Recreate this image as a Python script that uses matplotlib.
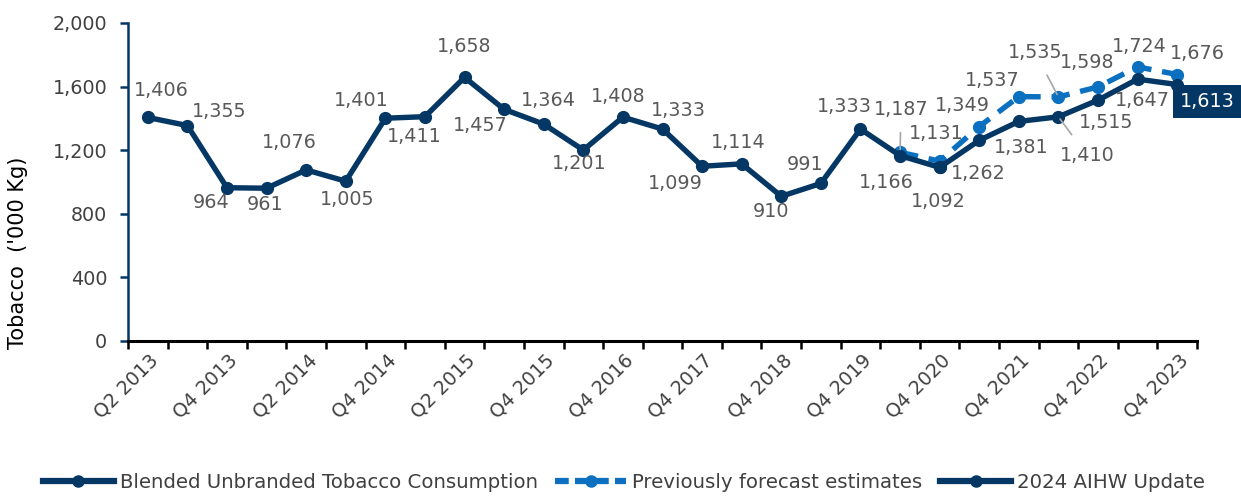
import matplotlib
matplotlib.use("Agg")
import matplotlib.pyplot as plt
from matplotlib.lines import Line2D

# ---------------- data ----------------
categories = ["Q2 2013", "Q3 2013", "Q4 2013", "Q1 2014", "Q2 2014", "Q3 2014",
              "Q4 2014", "Q1 2015", "Q2 2015", "Q3 2015", "Q4 2015", "Q2 2016",
              "Q4 2016", "Q2 2017", "Q4 2017", "Q2 2018", "Q4 2018", "Q2 2019",
              "Q4 2019", "Q2 2020", "Q4 2020", "Q2 2021", "Q4 2021", "Q2 2022",
              "Q4 2022", "Q2 2023", "Q4 2023"]
shown_labels = ["Q2 2013", "Q4 2013", "Q2 2014", "Q4 2014", "Q2 2015", "Q4 2015",
                "Q4 2016", "Q4 2017", "Q4 2018", "Q4 2019", "Q4 2020", "Q4 2021",
                "Q4 2022", "Q4 2023"]

blended = [1406, 1355, 964, 961, 1076, 1005, 1401, 1411, 1658, 1457, 1364, 1201,
           1408, 1333, 1099, 1114, 910, 991, 1333, 1166, 1092]
forecast_start = 19
forecast = [1187, 1131, 1349, 1537, 1535, 1598, 1724, 1676]
aihw_start = 20
aihw = [1092, 1262, 1381, 1410, 1515, 1647, 1613]

NAVY = "#053765"
BLUE = "#0b70bf"
LBL = "#595959"
TICK = "#404040"

plt.rcParams["font.family"] = ["DejaVu Sans"]

fig = plt.figure(figsize=(12.41, 4.96), dpi=100)
ax = fig.add_axes([128 / 1241, (496 - 341) / 496, (1197 - 128) / 1241, (341 - 23) / 496])

n = len(categories)
xs_b = list(range(len(blended)))
xs_f = list(range(forecast_start, forecast_start + len(forecast)))
xs_a = list(range(aihw_start, aihw_start + len(aihw)))

ax.plot(xs_f, forecast, color=BLUE, lw=3.9, ls=(0, (3.4, 2.0)), marker="o",
        ms=8.5, zorder=2, solid_capstyle="butt")
ax.plot(xs_b, blended, color=NAVY, lw=3.9, marker="o", ms=8.5, zorder=3)
ax.plot(xs_a, aihw, color=NAVY, lw=3.9, marker="o", ms=8.5, zorder=3)

ax.set_xlim(-0.5, n - 0.5)
ax.set_ylim(0, 2000)
ax.set_yticks(range(0, 2001, 400))
ax.set_yticklabels([f"{v:,}" for v in range(0, 2001, 400)])
ax.tick_params(axis="y", colors=NAVY, length=6, width=1.8, pad=9,
               labelcolor=TICK, labelsize=13.8)

# x ticks at category boundaries, labels every other category
ax.set_xticks([i - 0.5 for i in range(n + 1)])
ax.set_xticklabels([])
ax.tick_params(axis="x", length=6, width=1.8, color="black")
label_idx = [categories.index(l) for l in shown_labels]
for i, l in zip(label_idx, shown_labels):
    ax.annotate(l, (i, 0), xytext=(1, -10), textcoords="offset pixels",
                rotation=45, ha="right", va="top", rotation_mode="anchor",
                fontsize=13.8, color=TICK, annotation_clip=False)

for s in ["top", "right"]:
    ax.spines[s].set_visible(False)
ax.spines["left"].set_color(NAVY)
ax.spines["left"].set_linewidth(1.8)
ax.spines["bottom"].set_color("black")
ax.spines["bottom"].set_linewidth(2.2)
ax.spines["bottom"].set_zorder(5)

# data labels: (dx, dy) in pixels, dy positive = down
b_off = [(14, -27), (32, -14), (-16, 15), (-2, 16), (-17, -27), (1, 18), (-24, -18),
         (-11, 20), (0, -31), (-24, 16), (5, -24), (-4, 13), (-5, -21), (16, -19),
         (-27, 17), (-3, -21), (-10, 15), (-16, -19), (-16, -23), (-14, 27), (-1, 34)]
f_off = [(1, -43), (-3, -28), (-17, -21), (-27, -16), (-23, -44), (-11, -24), (2, -20), (20, -21)]
a_off = [None, (-1, 33), (2, 26), (29, 39), (8, 22), (5, 21), (30, 17)]
f_leader = {0: True, 4: True}
a_leader = {3: True}

def lab(x, y, off, leader=False, **kw):
    dx, dy = off
    props = dict(fontsize=13.8, color=LBL, ha="center", va="center", zorder=6)
    props.update(kw)
    if leader:
        props["arrowprops"] = dict(arrowstyle="-", color="#a6a6a6", lw=1.2,
                                   shrinkA=8, shrinkB=2)
    ax.annotate(f"{y:,}", (x, y), xytext=(dx, -dy), textcoords="offset pixels",
                annotation_clip=False, **props)

for x, y, o in zip(xs_b, blended, b_off):
    lab(x, y, o)
for k, (x, y, o) in enumerate(zip(xs_f, forecast, f_off)):
    lab(x, y, o, leader=f_leader.get(k, False))
for k, (x, y, o) in enumerate(zip(xs_a, aihw, a_off)):
    if o is None:
        continue
    if k == len(aihw) - 1:
        lab(x, y, o, color="white",
            bbox=dict(boxstyle="square,pad=0.36", fc=NAVY, ec="none"))
    else:
        lab(x, y, o, leader=a_leader.get(k, False))

fig.text(18 / 1241, (496 - 253) / 496, "Tobacco  ('000 Kg)", rotation=90,
         ha="center", va="center", fontsize=15, color="black")

handles = [
    Line2D([], [], color=NAVY, lw=4.5, marker="o", ms=8),
    Line2D([], [], color=BLUE, lw=4.5, ls=(0, (2.2, 1.0)), marker="o", ms=8),
    Line2D([], [], color=NAVY, lw=4.5, marker="o", ms=8),
]
fig.legend(handles, ["Blended Unbranded Tobacco Consumption",
                     "Previously forecast estimates", "2024 AIHW Update"],
           loc="center", bbox_to_anchor=(624 / 1241, (496 - 482) / 496), ncol=3,
           frameon=False, fontsize=14.2, handlelength=3.6, handletextpad=0.3,
           columnspacing=0.9, labelcolor=TICK)

fig.savefig("out.png", dpi=100)
